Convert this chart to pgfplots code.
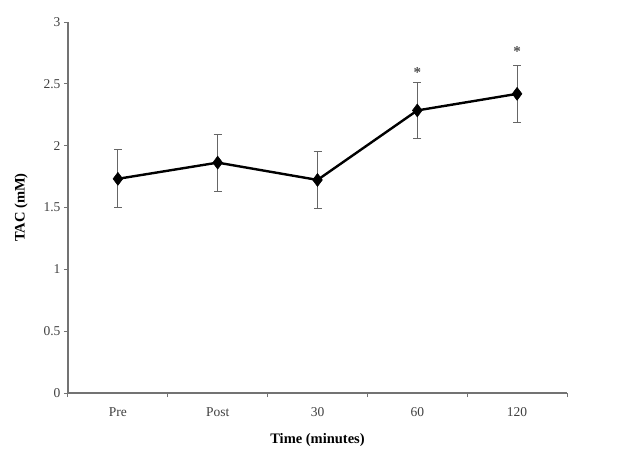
\documentclass[border=0pt]{standalone}
\usepackage{fontspec}
\setmainfont{Liberation Serif}
\usepackage{pgfplots}
\pgfplotsset{compat=1.18}
\pgfplotstableread{
x y e
1 1.732 0.235
2 1.863 0.231
3 1.723 0.230
4 2.285 0.229
5 2.419 0.229
}\tacdata
\begin{document}
\begin{tikzpicture}
\path[use as bounding box] (-68pt,-74pt) rectangle (576pt,393pt);
\begin{axis}[
  at={(0,0)}, anchor=south west,
  scale only axis, width=499pt, height=371pt,
  xmin=0.5, xmax=5.5, ymin=0, ymax=3,
  axis lines*=left,
  axis line style={draw=black!55, line width=1.3pt},
  xtick={0.5,1.5,...,5.5},
  x tick label as interval,
  xticklabels={Pre,Post,30,60,120},
  ytick={0,0.5,...,3},
  tick align=outside,
  major tick length=4pt,
  tick style={draw=black!55, line width=1pt},
  tick label style={font=\fontsize{13.5}{15}\selectfont, text=black!75},
  yticklabel style={/pgf/number format/.cd, fixed, assume math mode=true},
  xticklabel style={yshift=-7pt},
  xlabel={Time (minutes)},
  ylabel={TAC (mM)},
  label style={font=\fontsize{14.5}{16}\selectfont\bfseries},
  xlabel style={at={(axis description cs:0.5,-0.127)}, anchor=center},
  ylabel style={at={(axis description cs:-0.094,0.5)}, anchor=center},
  clip=false,
]
\addplot[black, line width=2.4pt, mark=diamond*, mark size=6.5pt,
  mark options={fill=black, line width=0.5pt},
  error bars/.cd, y dir=both, y explicit,
  error bar style={draw=black!60, line width=1pt},
  error mark options={rotate=90, draw=black!60, mark size=4pt, line width=1pt}]
  table[x=x, y=y, y error=e] {\tacdata};
\node[font=\fontsize{15}{16}\selectfont\bfseries, text=black!70] at (axis cs:4,2.59) {*};
\node[font=\fontsize{15}{16}\selectfont\bfseries, text=black!70] at (axis cs:5,2.76) {*};
\end{axis}
\end{tikzpicture}
\end{document}
